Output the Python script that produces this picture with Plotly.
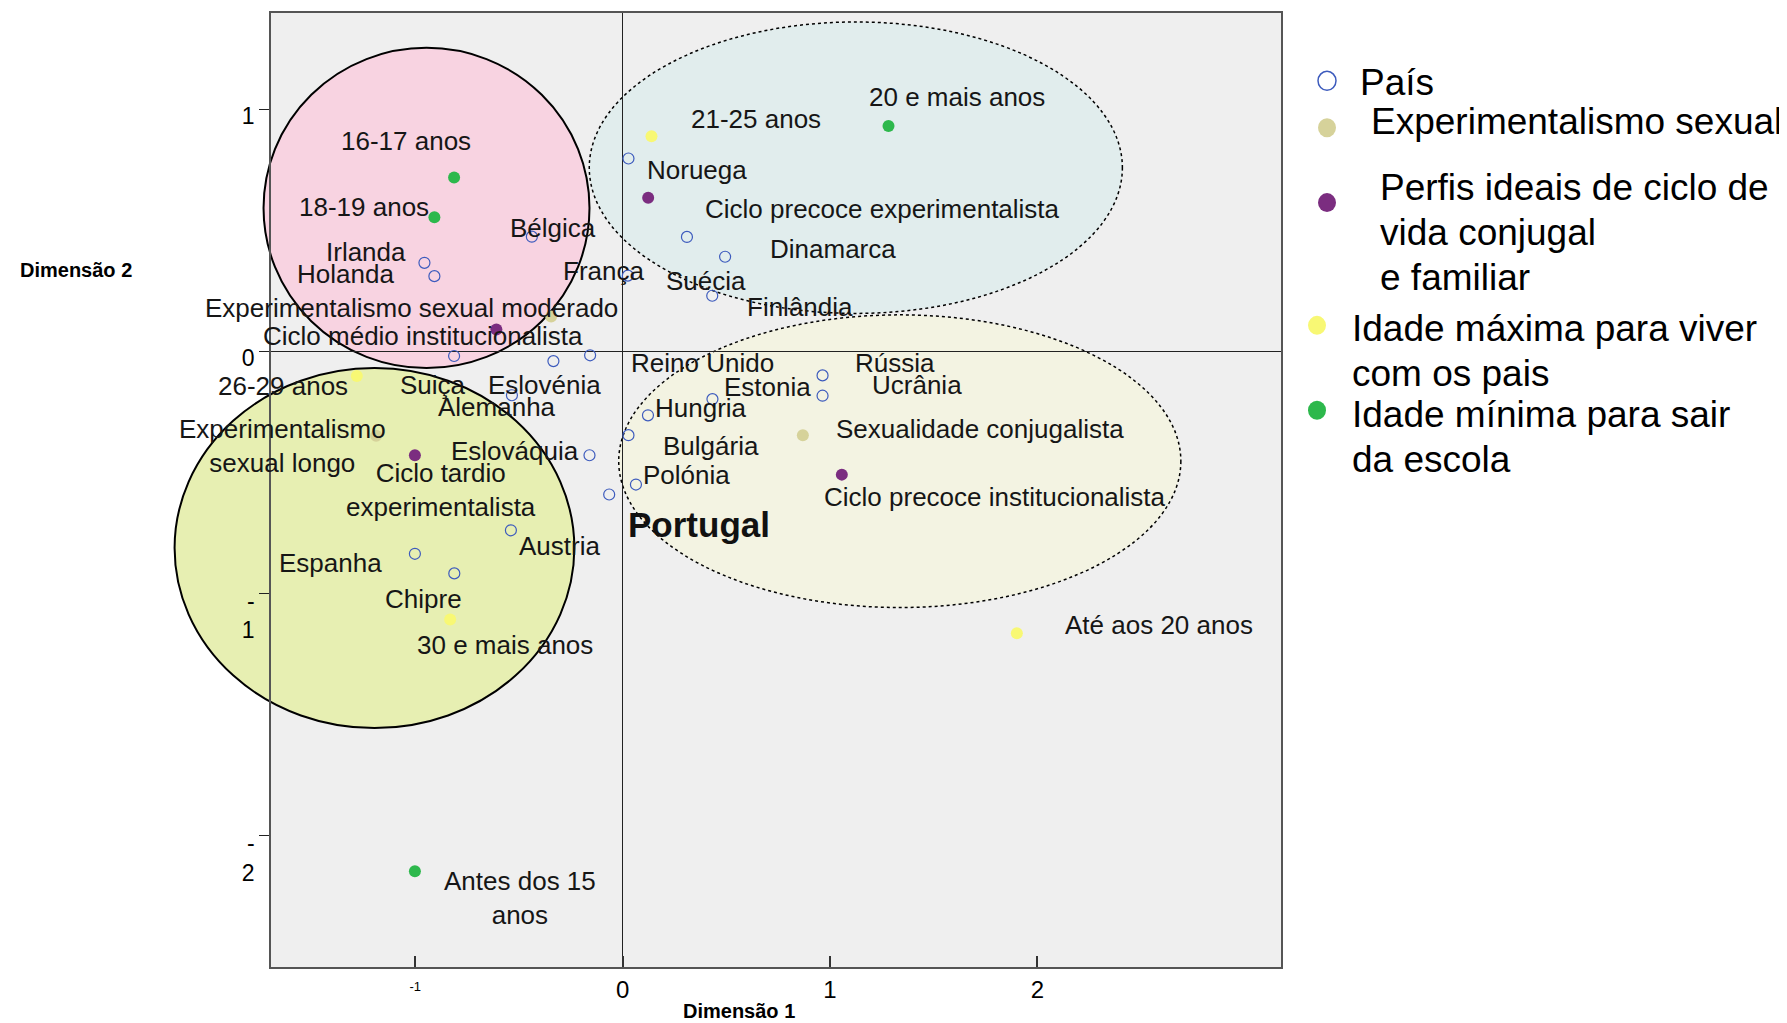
import plotly.graph_objects as go

# ---- data: coordinates on Dimensão 1 / Dimensão 2 ----
country_names = ["Noruega", "Dinamarca", "Suécia", "Finlândia", "Bélgica", "Irlanda",
                 "Holanda", "França", "Suiça", "Eslovénia", "Reino Unido", "Alemanha",
                 "Eslováquia", "Austria", "Espanha", "Chipre", "Estonia", "Hungria",
                 "Bulgária", "Polónia", "Portugal", "Rússia", "Ucrânia"]
country_x = [0.028, 0.494, 0.310, 0.432, -0.438, -0.956, -0.908, 0.025, -0.813, -0.334,
             -0.157, -0.534, -0.160, -0.539, -1.002, -0.812, 0.433, 0.122, 0.028, 0.064,
             -0.065, 0.964, 0.964]
country_y = [0.797, 0.391, 0.473, 0.230, 0.474, 0.366, 0.311, 0.313, -0.019, -0.040,
             -0.016, -0.181, -0.429, -0.739, -0.836, -0.917, -0.197, -0.264, -0.346, -0.550,
             -0.591, -0.099, -0.183]

sexual_names = ["Experimentalismo sexual moderado", "Experimentalismo<br>sexual longo",
                "Sexualidade conjugalista"]
sexual_x = [-0.345, -1.189, 0.869]
sexual_y = [0.144, -0.348, -0.346]

profile_names = ["Ciclo médio institucionalista", "Ciclo precoce experimentalista",
                 "Ciclo tardio<br>experimentalista", "Ciclo precoce institucionalista"]
profile_x = [-0.609, 0.123, -1.002, 1.057]
profile_y = [0.091, 0.635, -0.429, -0.509]

max_age_names = ["21-25 anos", "26-29 anos", "30 e mais anos", "Até aos 20 anos"]
max_age_x = [0.139, -1.282, -0.832, 1.901]
max_age_y = [0.889, -0.102, -1.107, -1.164]

min_age_names = ["16-17 anos", "18-19 anos", "20 e mais anos", "Antes dos 15<br>anos"]
min_age_x = [-0.813, -0.908, 1.282, -1.002]
min_age_y = [0.718, 0.554, 0.931, -2.147]

x_ticks = [-1, 0, 1, 2]
x_ticktext = ["<span style='font-size:13px;baseline-shift:7px'>-1</span>", "0", "1", "2"]
y_ticks = [1, 0, -1, -2]
y_ticktext = ["1", "0", "\u00a0<br>-<br>1", "\u00a0<br>-<br>2"]

# ---- label offsets in pixels (dx, dy up) ----
country_off = [(69, -12), (108, 8), (19, -44), (88, -11), (21, 9), (-58, 11),
               (-89, 2), (-24, 5), (-21, -29), (-9, -24), (112, -8), (-15, -12),
               (-74, 4), (49, -16), (-84, -9), (-31, -26), (55, 12), (53, 7),
               (83, -11), (51, 10), (90, -30), (72, 12), (94, 11)]
sexual_off = [(-140, 9), (-94, -10), (177, 6)]
profile_off = [(-73, -7), (234, -11), (26, -35), (153, -22)]
max_age_off = [(105, 17), (-74, -10), (55, -26), (142, 8)]
min_age_off = [(-48, 37), (-70, 10), (69, 29), (105, -27)]

X_RANGE = [-1.696, 3.175]
Y_RANGE = [-2.543, 1.398]
FONT = "Liberation Sans, Arial, sans-serif"

BLUE = "#3d5bbd"
TAN = "#d6d29a"
PURPLE = "#7b2d80"
YELLOW = "#f8f874"
GREEN = "#2db84c"

fig = go.Figure()

fig.add_trace(go.Scatter(x=country_x, y=country_y, mode="markers", name="País",
                         marker=dict(symbol="circle-open", size=11, color=BLUE,
                                     line=dict(width=1.2, color=BLUE))))
for xs, ys, col, nm in [(sexual_x, sexual_y, TAN, "Experimentalismo sexual"),
                        (profile_x, profile_y, PURPLE, "Perfis ideais"),
                        (max_age_x, max_age_y, YELLOW, "Idade máxima"),
                        (min_age_x, min_age_y, GREEN, "Idade mínima")]:
    fig.add_trace(go.Scatter(x=xs, y=ys, mode="markers", name=nm,
                             marker=dict(size=12, color=col, line=dict(width=0))))


def dom(v, rng):
    return (v - rng[0]) / (rng[1] - rng[0])


# grouping ellipses (drawn unclipped, in axis-domain units)
ellipses = [
    (-0.161, 2.410, 0.157, 1.361, "#e1eded", "dot"),
    (-0.019, 2.692, -1.058, 0.151, "#f3f3e2", "dot"),
    (-1.732, -0.160, -0.069, 1.254, "#f8d3e1", "solid"),
    (-2.161, -0.233, -1.556, -0.069, "#e7efb2", "solid"),
]
shapes = []
for x0, x1, y0, y1, fillc, dash in ellipses:
    shapes.append(dict(type="circle", xref="x domain", yref="y domain", layer="below",
                       x0=dom(x0, X_RANGE), x1=dom(x1, X_RANGE),
                       y0=dom(y0, Y_RANGE), y1=dom(y1, Y_RANGE),
                       fillcolor=fillc,
                       line=dict(color="black", width=2 if dash == "solid" else 1.5, dash=dash)))

annotations = []
groups = [(country_names, country_x, country_y, country_off),
          (sexual_names, sexual_x, sexual_y, sexual_off),
          (profile_names, profile_x, profile_y, profile_off),
          (max_age_names, max_age_x, max_age_y, max_age_off),
          (min_age_names, min_age_x, min_age_y, min_age_off)]
for names, xs, ys, offs in groups:
    for nm, xv, yv, (dx, dy) in zip(names, xs, ys, offs):
        f = dict(family=FONT, size=26, color="#161616")
        if nm == "Portugal":
            f = dict(family=FONT, size=35, color="#111111", weight="bold")
        annotations.append(dict(x=xv, y=yv, xref="x", yref="y", text=nm, showarrow=False,
                                xshift=dx, yshift=dy, xanchor="center", yanchor="middle",
                                font=f))

# the page body has an 8px margin, so the figure is shrunk by that much
OFF = 8
W, H = 1787 - OFF, 1023 - OFF
PL, PR, PT, PB = 271, 1281, 11, 967   # plot area on the page
L, T = PL - OFF, PT - OFF
R, B = W - (PR - OFF), H - (PB - OFF)


def px_x(p):
    return (p - PL) / (PR - PL)


def px_y(p):
    return (PB - p) / (PB - PT)


# axis titles
for txt, tx, ty in [("Dimensão 1", 739, 1011), ("Dimensão 2", 76, 269)]:
    annotations.append(dict(x=px_x(tx), y=px_y(ty), xref="paper", yref="paper", text=txt,
                            showarrow=False, xanchor="center", yanchor="middle",
                            font=dict(family=FONT, size=20, color="black", weight="bold")))

# legend drawn at the right
legend_marks = [(1327, 79, "open", BLUE), (1327, 126, "fill", TAN), (1327, 201, "fill", PURPLE),
                (1317, 324, "fill", YELLOW), (1317, 409, "fill", GREEN)]
legend_lines = [("País", 1358, 81), ("Experimentalismo sexual", 1369, 120),
                ("Perfis ideais de ciclo de", 1378, 186), ("vida conjugal", 1378, 231),
                ("e familiar", 1378, 276), ("Idade máxima para viver", 1350, 327),
                ("com os pais", 1350, 372), ("Idade mínima para sair", 1350, 413),
                ("da escola", 1350, 458)]
for mx, my, kind, col in legend_marks:
    shapes.append(dict(type="circle", xref="paper", yref="paper",
                       xsizemode="pixel", ysizemode="pixel",
                       xanchor=px_x(mx), yanchor=px_y(my),
                       x0=-9, x1=9, y0=-9.5, y1=9.5,
                       fillcolor=col if kind == "fill" else "rgba(0,0,0,0)",
                       line=dict(color=col, width=1.5 if kind == "open" else 0)))
for txt, lx, ly in legend_lines:
    annotations.append(dict(x=px_x(lx), y=px_y(ly), xref="paper", yref="paper", text=txt,
                            showarrow=False, xanchor="left", yanchor="middle",
                            font=dict(family=FONT, size=37, color="black")))

fig.update_layout(
    width=W, height=H, autosize=False,
    margin=dict(l=L, r=R, t=T, b=B, pad=0),
    paper_bgcolor="white", plot_bgcolor="#efefef",
    showlegend=False,
    shapes=shapes, annotations=annotations,
    font=dict(family=FONT, color="black"),
)
fig.update_xaxes(range=X_RANGE, tickvals=x_ticks, ticktext=x_ticktext,
                 ticks="inside", ticklen=11, tickwidth=1.5, tickcolor="#333",
                 tickfont=dict(family=FONT, size=24, color="black"),
                 showgrid=False, zeroline=True, zerolinecolor="#222", zerolinewidth=1.3,
                 showline=True, mirror=True, linecolor="#555", linewidth=1.5)
fig.update_yaxes(range=Y_RANGE, tickvals=y_ticks, ticktext=y_ticktext,
                 ticks="outside", ticklen=10, tickwidth=1.2, tickcolor="#222",
                 ticklabelshift=7,
                 tickfont=dict(family=FONT, size=23, color="black"),
                 showgrid=False, zeroline=True, zerolinecolor="#222", zerolinewidth=1.3,
                 showline=True, mirror=True, linecolor="#555", linewidth=1.5)

fig.write_html("out.html")
